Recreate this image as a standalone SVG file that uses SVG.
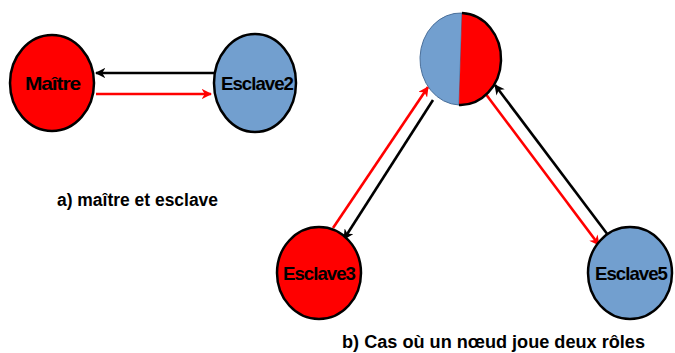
<svg xmlns="http://www.w3.org/2000/svg" width="675" height="353" viewBox="0 0 675 353">
<defs>
<style>
.node{stroke:#000;stroke-width:2.5}
.red{fill:#ff0000}
.blue{fill:#729fcf}
.lbl{font-family:"Liberation Sans",Arial,sans-serif;font-weight:bold;font-size:19px;fill:#000;letter-spacing:-1px}
.cap{font-family:"Liberation Sans",Arial,sans-serif;font-weight:bold;font-size:18px;fill:#000}
.ck{stroke:#000;stroke-width:2.6;fill:none}
.cr{stroke:#ff0000;stroke-width:2.6;fill:none}
</style>
<marker id="ak" viewBox="0 0 10 10" refX="9" refY="5" markerWidth="4" markerHeight="4" orient="auto" markerUnits="strokeWidth">
<path d="M0,0 L10,5 L0,10 L3,5 Z" fill="#000"/>
</marker>
<marker id="ar" viewBox="0 0 10 10" refX="9" refY="5" markerWidth="4" markerHeight="4" orient="auto" markerUnits="strokeWidth">
<path d="M0,0 L10,5 L0,10 L3,5 Z" fill="#ff0000"/>
</marker>
</defs>
<rect width="675" height="353" fill="#fff"/>
<g id="connectors">
<line class="ck" x1="214" y1="73" x2="96" y2="73" marker-end="url(#ak)"/>
<line class="cr" x1="96" y1="94" x2="211" y2="94" marker-end="url(#ar)"/>
<line class="cr" x1="333" y1="228" x2="428" y2="87" marker-end="url(#ar)"/>
<line class="ck" x1="433" y1="100" x2="344" y2="239" marker-end="url(#ak)"/>
<line class="ck" x1="608" y1="235" x2="495" y2="85" marker-end="url(#ak)"/>
<line class="cr" x1="485" y1="93" x2="599" y2="245" marker-end="url(#ar)"/>
</g>
<g id="maitre">
<ellipse class="node red" cx="52" cy="83" rx="42" ry="48"/>
<text class="lbl" x="25" y="90" textLength="55" lengthAdjust="spacingAndGlyphs">Maître</text>
</g>
<g id="esclave2">
<ellipse class="node blue" cx="255" cy="83" rx="41" ry="49"/>
<text class="lbl" x="221" y="90" textLength="72" lengthAdjust="spacingAndGlyphs">Esclave2</text>
</g>
<g id="noeud">
<path d="M462,13 A40.5,46 0 0 0 459,105 Z" class="blue" stroke="#4a6f9a" stroke-width="1"/>
<path d="M462,13 A40.5,46 0 0 1 459,105 Z" class="red" stroke="none"/>
<path d="M462,13 A40.5,46 0 0 1 459,105" fill="none" stroke="#000" stroke-width="2.5"/>
</g>
<g id="esclave3">
<ellipse class="node red" cx="319" cy="273" rx="42" ry="46"/>
<text class="lbl" x="283" y="280" textLength="72" lengthAdjust="spacingAndGlyphs">Esclave3</text>
</g>
<g id="esclave5">
<ellipse class="node blue" cx="630" cy="273" rx="42" ry="46"/>
<text class="lbl" x="595" y="280" textLength="72" lengthAdjust="spacingAndGlyphs">Esclave5</text>
</g>
<g id="captions">
<text class="cap" x="57" y="206" textLength="161" lengthAdjust="spacingAndGlyphs">a) maître et esclave</text>
<text class="cap" x="342" y="348" textLength="303" lengthAdjust="spacingAndGlyphs">b) Cas où un nœud joue deux rôles</text>
</g>
</svg>
